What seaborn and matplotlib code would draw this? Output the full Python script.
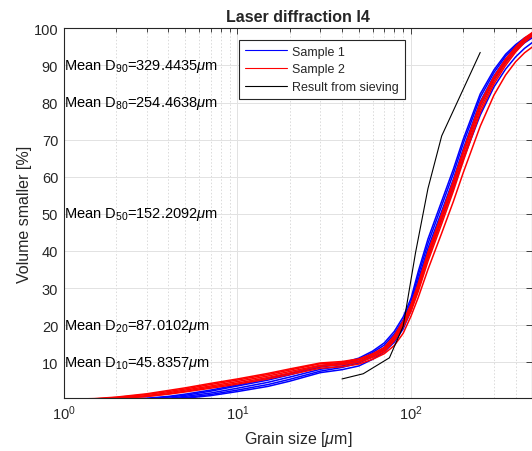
import matplotlib
matplotlib.use("Agg")
import matplotlib.pyplot as plt
from matplotlib.lines import Line2D
from matplotlib.ticker import LogLocator, NullFormatter, FixedLocator
import pandas as pd
import seaborn as sns

# Particle sizes of the laser diffraction size classes [um]
sizes = [1, 1.5, 2, 3, 4, 5, 7, 10, 15, 20, 30, 40, 50, 60, 70, 80, 90,
         100, 110, 125, 150, 175, 200, 250, 300, 350, 400, 450, 500]

# Cumulative volume passing [%] for the repeated runs of sample 1
s1_run_a = [0, 0, 0.1, 0.3, 0.8, 1.4, 2.5, 3.9, 5.6, 7.0, 9.0, 9.8, 11.1, 13.0, 15.2, 18.3, 22.2,
            27.3, 34.5, 43.2, 53.4, 62.0, 70.2, 82.3, 88.8, 93.0, 95.6, 97.4, 98.6]
s1_run_b = [0, 0, 0, 0.2, 0.6, 1.1, 2.2, 3.6, 5.2, 6.6, 8.7, 9.5, 10.7, 12.6, 14.6, 17.6, 21.4,
            26.4, 33.5, 42.0, 52.2, 60.8, 69.1, 81.4, 88.1, 92.5, 95.2, 97.1, 98.3]
s1_run_c = [0, 0, 0, 0, 0.3, 0.8, 1.7, 3.0, 4.6, 6.0, 8.1, 9.0, 10.2, 12.0, 13.9, 16.8, 20.5,
            25.4, 32.3, 40.7, 50.7, 59.3, 67.6, 80.2, 87.2, 91.8, 94.6, 96.6, 97.9]
s1_run_d = [0, 0, 0, 0, 0.1, 0.5, 1.3, 2.5, 4.0, 5.4, 7.6, 8.6, 9.8, 11.5, 13.4, 16.2, 19.8,
            24.6, 31.4, 39.6, 49.5, 58.1, 66.4, 79.1, 86.3, 91.0, 94.0, 96.1, 97.5]
s1_run_e = [0, 0, 0, 0, 0, 0.3, 1.0, 2.1, 3.5, 4.9, 7.2, 8.0, 9.0, 10.8, 12.8, 15.4, 19.0,
            24.0, 30.5, 38.4, 48.8, 57.0, 64.8, 76.6, 84.2, 89.0, 92.3, 94.6, 96.2]

# Cumulative volume passing [%] for the repeated runs of sample 2
s2_run_a = [0, 0.2, 0.6, 1.5, 2.4, 3.1, 4.3, 5.5, 7.0, 8.2, 9.8, 10.2, 10.9, 12.3, 14.0, 17.2, 21.1,
            25.7, 31.3, 39.7, 50.0, 58.9, 67.1, 79.9, 87.0, 91.7, 95.0, 97.4, 98.9]
s2_run_b = [0, 0.1, 0.5, 1.3, 2.1, 2.8, 4.0, 5.2, 6.7, 7.9, 9.6, 9.9, 10.7, 12.0, 13.6, 16.8, 20.6,
            25.1, 30.7, 39.0, 49.3, 58.2, 66.4, 79.3, 86.6, 91.3, 94.7, 97.1, 98.7]
s2_run_c = [0, 0, 0.3, 1.0, 1.8, 2.5, 3.6, 4.8, 6.3, 7.5, 9.2, 9.6, 10.3, 11.6, 13.2, 16.2, 20.0,
            24.4, 29.8, 38.0, 48.2, 57.0, 65.2, 78.2, 85.7, 90.6, 94.1, 96.6, 98.3]
s2_run_d = [0, 0, 0.2, 0.8, 1.5, 2.2, 3.3, 4.4, 5.9, 7.1, 8.9, 9.3, 10.0, 11.3, 12.8, 15.8, 19.5,
            23.8, 29.1, 37.2, 47.3, 56.1, 64.3, 77.3, 85.0, 90.0, 93.6, 96.2, 98.0]
s2_run_e = [0, 0, 0.2, 0.8, 1.4, 2.0, 3.0, 4.1, 5.5, 6.7, 8.4, 8.8, 9.5, 10.8, 12.3, 14.5, 17.8,
            22.5, 27.5, 35.0, 44.8, 53.3, 61.2, 73.6, 82.0, 87.4, 91.0, 93.4, 95.0]

# Sieve analysis
sieve_sizes = [40, 53, 75, 90, 106, 125, 150, 250]
sieve_passing = [5.5, 6.9, 11.2, 19.7, 39.5, 56.8, 71.0, 93.5]

# Mean characteristic diameters
d_levels = [90, 80, 50, 20, 10]
d_values = ["329.4435", "254.4638", "152.2092", "87.0102", "45.8357"]

sample_names = ["Sample 1", "Sample 2"]
sample_colors = {"Sample 1": "#0000ff", "Sample 2": "#ff0000"}

runs = {
    "Sample 1": [s1_run_a, s1_run_b, s1_run_c, s1_run_d, s1_run_e],
    "Sample 2": [s2_run_a, s2_run_b, s2_run_c, s2_run_d, s2_run_e],
}
rows = []
for name in sample_names:
    for k, vals in enumerate(runs[name]):
        for s, v in zip(sizes, vals):
            rows.append({"size": s, "passing": v, "sample": name, "run": f"{name}-{k}"})
df = pd.DataFrame(rows)

sns.set_style("white")
plt.rcParams["font.family"] = ["Liberation Sans", "DejaVu Sans"]
plt.rcParams["mathtext.fontset"] = "custom"
plt.rcParams["mathtext.rm"] = "Liberation Sans"
plt.rcParams["mathtext.it"] = "Liberation Sans:italic"
plt.rcParams["mathtext.bf"] = "Liberation Sans:bold"

W, H = 532, 452
fig = plt.figure(figsize=(W / 100, H / 100), dpi=100)
left, right, top, bottom = 63.8, 532.5, 29.3, 398.5
ax = fig.add_axes([left / W, 1 - bottom / H, (right - left) / W, (bottom - top) / H])

sns.lineplot(data=df, x="size", y="passing", hue="sample", units="run",
             estimator=None, palette=sample_colors, linewidth=1.1,
             sort=False, legend=False, ax=ax)
sns.lineplot(x=sieve_sizes, y=sieve_passing, color="black", linewidth=0.8,
             sort=False, ax=ax)

ax.set_xscale("log")
ax.set_xlim(1, 500)
ax.set_ylim(0.5, 100)
ax.yaxis.set_major_locator(FixedLocator(list(range(10, 101, 10))))
ax.xaxis.set_major_locator(LogLocator(base=10, numticks=10))
ax.xaxis.set_minor_locator(LogLocator(base=10, subs=range(2, 10), numticks=10))
ax.xaxis.set_minor_formatter(NullFormatter())

tick_col = "#262626"
ax.grid(True, which="major", color="#e2e2e2", linewidth=0.7, linestyle="-")
ax.grid(True, which="minor", axis="x", color="#dadada", linewidth=0.7, linestyle=(0, (1.5, 2)))
ax.set_axisbelow(True)
ax.tick_params(which="both", direction="in", top=True, right=True,
               colors=tick_col, labelcolor=tick_col, labelsize=10.5, width=0.6)
ax.tick_params(which="major", length=4.5, pad=4)
ax.tick_params(which="minor", length=3)
for sp in ax.spines.values():
    sp.set_color(tick_col)
    sp.set_linewidth(0.8)

ax.set_xlabel(r"Grain size [$\mu$m]", fontsize=11.5, color=tick_col, labelpad=5)
ax.set_ylabel("Volume smaller [%]", fontsize=11.5, color=tick_col, labelpad=1)
ax.set_title("Laser diffraction I4", fontsize=11.5, fontweight="bold", pad=5)

for lvl, val in zip(d_levels, d_values):
    ax.text(1.0, lvl, f"Mean D$_{{{lvl}}}$={val}$\\mu$m", fontsize=10.5,
            ha="left", va="center", color="black")

handles = [Line2D([], [], color=sample_colors["Sample 1"], linewidth=0.8),
           Line2D([], [], color=sample_colors["Sample 2"], linewidth=0.8),
           Line2D([], [], color="black", linewidth=0.8)]
leg = ax.legend(handles, ["Sample 1", "Sample 2", "Result from sieving"],
                loc="upper left", bbox_to_anchor=(0.374, 0.968), borderaxespad=0,
                fontsize=9, frameon=True, fancybox=False, framealpha=1,
                edgecolor=tick_col, handlelength=3.4, handletextpad=0.4,
                labelspacing=0.45, borderpad=0.45)
leg.get_frame().set_linewidth(0.8)

fig.savefig("out.png", dpi=100)
